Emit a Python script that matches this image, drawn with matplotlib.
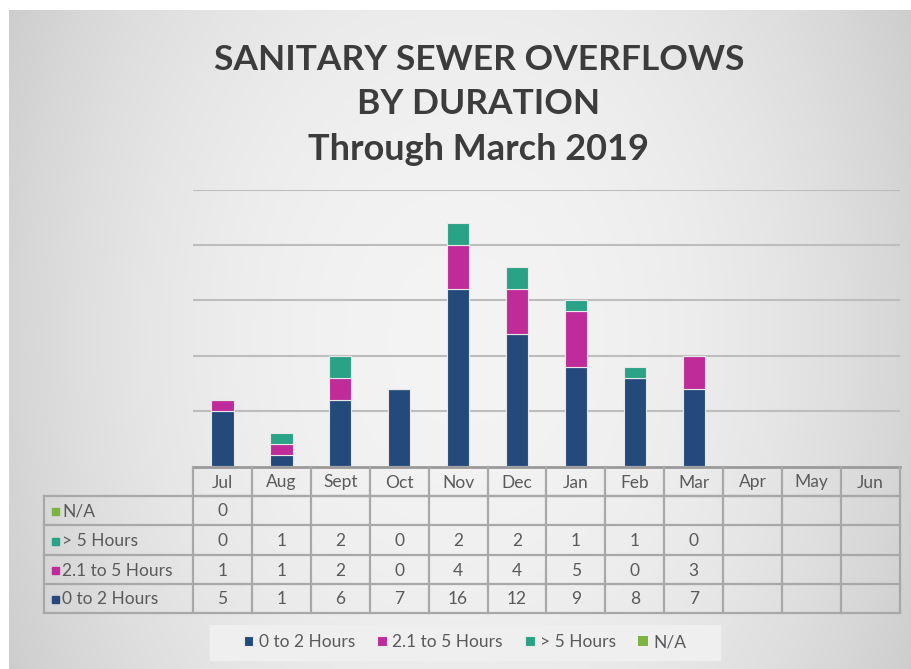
import numpy as np
import matplotlib
matplotlib.use("Agg")
import matplotlib.pyplot as plt
from matplotlib.patches import Rectangle

months = ["Jul", "Aug", "Sept", "Oct", "Nov", "Dec", "Jan", "Feb", "Mar", "Apr", "May", "Jun"]
hours_0_2 = [5, 1, 6, 7, 16, 12, 9, 8, 7]
hours_2_5 = [1, 1, 2, 0, 4, 4, 5, 0, 3]
hours_gt5 = [0, 1, 2, 0, 2, 2, 1, 1, 0]
hours_na = [0]
series_names = ["0 to 2 Hours", "2.1 to 5 Hours", "> 5 Hours", "N/A"]
colors = ["#244a7c", "#bf2b98", "#2aa286", "#7cb342"]
title_lines = ["SANITARY SEWER OVERFLOWS", "BY DURATION", "Through March 2019"]

W, H = 912, 669
fig = plt.figure(figsize=(W / 100, H / 100), dpi=100)
fig.patch.set_facecolor("white")

# background gradient panel
bg = fig.add_axes([0, 0, 1, 1], zorder=-10)
xx = np.linspace(-1, 1, 400)
yy = np.linspace(-1, 1, 300)
X, Y = np.meshgrid(xx, yy)
val = 0.955 - 0.12 * (np.abs(X) ** 2.2) - 0.03 * (np.abs(Y) ** 2)
bg.imshow(np.dstack([val, val, val]), extent=[9, W, H, 10], aspect="auto", zorder=0)
bg.set_xlim(0, W)
bg.set_ylim(H, 0)
bg.axis("off")

# bar axes (pixel mapping)
x0, x1 = 193, 900
y_top, y_bot = 190, 466
ax = fig.add_axes([x0 / W, 1 - y_bot / H, (x1 - x0) / W, (y_bot - y_top) / H])
ax.set_facecolor("none")
n = len(months)
xs = np.arange(n)
ax.set_xlim(-0.5, n - 0.5)
ax.set_ylim(0, 25)
ax.set_yticks([5, 10, 15, 20, 25])
ax.yaxis.grid(True, color="#bdbdbd", linewidth=1.5)
ax.set_axisbelow(True)
for s in ax.spines.values():
    s.set_visible(False)
ax.tick_params(left=False, bottom=False, labelleft=False, labelbottom=False)

bw = 0.38
m = len(hours_0_2)
b1 = ax.bar(xs[:m], hours_0_2, bw, color=colors[0], edgecolor="#e8e8e8", linewidth=0.8, zorder=3)
bot = np.array(hours_0_2, dtype=float)
b2 = ax.bar(xs[:m], hours_2_5, bw, bottom=bot, color=colors[1], edgecolor="#e8e8e8", linewidth=0.8, zorder=3)
bot = bot + np.array(hours_2_5)
b3 = ax.bar(xs[:m], hours_gt5, bw, bottom=bot, color=colors[2], edgecolor="#e8e8e8", linewidth=0.8, zorder=3)
bot2 = bot + np.array(hours_gt5)
b4 = ax.bar(xs[:len(hours_na)], hours_na, bw, bottom=bot2[:len(hours_na)], color=colors[3], linewidth=0, zorder=3)

# title
ttf = ["Lato", "DejaVu Sans"]
fig.text(479 / W, 1 - 60 / H, title_lines[0], ha="center", va="center", fontsize=25.5, fontweight="bold",
         color="#3c3c3c", family=ttf)
fig.text(479 / W, 1 - 104 / H, title_lines[1], ha="center", va="center", fontsize=25.5, fontweight="bold",
         color="#3c3c3c", family=ttf)
fig.text(479 / W, 1 - 150 / H, title_lines[2], ha="center", va="center", fontsize=26, fontweight="bold",
         color="#3c3c3c", family=ttf)

# data table drawn in pixel coords on overlay axes
tab = fig.add_axes([0, 0, 1, 1], zorder=5)
tab.set_xlim(0, W)
tab.set_ylim(H, 0)
tab.axis("off")
tab.set_facecolor("none")
lc = "#a8a8a8"
lw = 1.6
colw = (x1 - x0) / n
row_y = [467, 496, 525, 555, 584, 613]
label_x0 = 44
tf = ["Lato", "DejaVu Sans"]
tc = "#5a5a5a"
fs = 12.5

# axis line
tab.plot([x0, x1], [row_y[0], row_y[0]], color="#9a9a9a", lw=2)
# horizontal lines
tab.plot([x0, x1], [row_y[1], row_y[1]], color=lc, lw=lw)
for yv in row_y[1:]:
    tab.plot([label_x0, x1], [yv, yv], color=lc, lw=lw)
# verticals
for k in range(n + 1):
    xv = x0 + k * colw
    tab.plot([xv, xv], [row_y[0], row_y[-1]], color=lc, lw=lw)
tab.plot([label_x0, label_x0], [row_y[1], row_y[-1]], color=lc, lw=lw)

# month headers
for k, mname in enumerate(months):
    tab.text(x0 + (k + 0.5) * colw, (row_y[0] + row_y[1]) / 2 + 1, mname, ha="center", va="center",
             fontsize=fs, color=tc, family=tf)

rows = [(series_names[3], hours_na, colors[3]),
        (series_names[2], hours_gt5, colors[2]),
        (series_names[1], hours_2_5, colors[1]),
        (series_names[0], hours_0_2, colors[0])]
for r, (name, vals, col) in enumerate(rows):
    yc = (row_y[r + 1] + row_y[r + 2]) / 2 + 1
    tab.add_patch(Rectangle((52, yc - 3.5), 7, 7, color=col))
    tab.text(62, yc, name, ha="left", va="center", fontsize=fs, color=tc, family=tf)
    for k, v in enumerate(vals):
        tab.text(x0 + (k + 0.5) * colw, yc, str(v), ha="center", va="center", fontsize=fs, color=tc, family=tf)

# legend
tab.add_patch(Rectangle((210, 625), 510, 35, color="#efefef", zorder=1))
leg = fig.legend([b1, b2, b3, b4], series_names, loc="center", bbox_to_anchor=(465 / W, 1 - 642 / H),
                 ncol=4, frameon=False, handlelength=0.55, handleheight=0.55, handletextpad=0.3,
                 columnspacing=1.3, prop={"family": tf, "size": fs})
for t in leg.get_texts():
    t.set_color(tc)
leg.set_zorder(10)

fig.savefig("out.png", dpi=100)
